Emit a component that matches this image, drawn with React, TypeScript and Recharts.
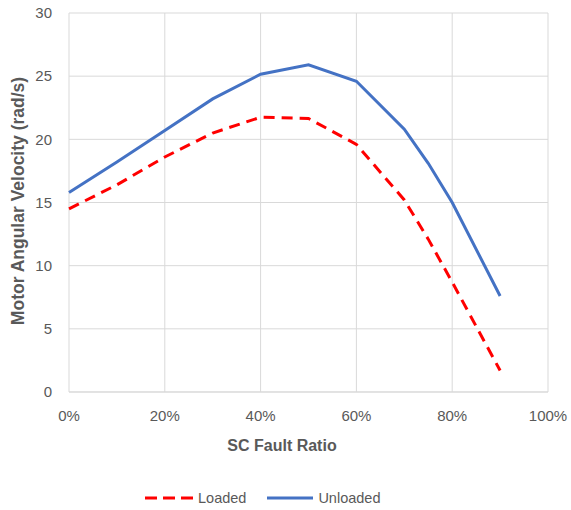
import React from 'react';
import { LineChart, Line, XAxis, YAxis, CartesianGrid, Legend } from 'recharts';

const faultRatios = [0, 0.1, 0.2, 0.3, 0.4, 0.5, 0.6, 0.7, 0.75, 0.8, 0.9];
const loadedValues = [14.5, 16.4, 18.6, 20.5, 21.75, 21.65, 19.6, 15.2, 12.1, 8.7, 1.7];
const unloadedValues = [15.8, 18.2, 20.7, 23.2, 25.15, 25.9, 24.6, 20.8, 18.1, 15.0, 7.6];
const xTicks = [0, 0.2, 0.4, 0.6, 0.8, 1];
const yTicks = [0, 5, 10, 15, 20, 25, 30];
const seriesNames = ['Loaded', 'Unloaded'];

const data = faultRatios.map((r, i) => ({ ratio: r, loaded: loadedValues[i], unloaded: unloadedValues[i] }));

const FONT = '"Liberation Sans", Arial, sans-serif';
const GRAY = '#595959';
const RED = '#FF0000';
const BLUE = '#4472C4';

const YTitle = () => {
  const cx = 18;
  const cy = 201;
  return (
    <text x={cx} y={cy} transform={`rotate(-90, ${cx}, ${cy})`} textAnchor="middle" dominantBaseline="central"
      fill={GRAY} fontFamily={FONT} fontSize={17.5} fontWeight="bold">Motor Angular Velocity (rad/s)</text>
  );
};

const XTitle = () => (
  <text x={282} y={445} textAnchor="middle" dominantBaseline="central"
    fill={GRAY} fontFamily={FONT} fontSize={16} fontWeight="bold">SC Fault Ratio</text>
);

const LegendContent = () => (
  <div style={{ display: 'flex', alignItems: 'center', paddingLeft: 145, fontFamily: FONT, fontSize: 14.5, color: GRAY }}>
    <svg width={48} height={6} style={{ marginRight: 5 }}>
      <line x1={0} y1={3} x2={48} y2={3} stroke={RED} strokeWidth={3} strokeDasharray="12 6" />
    </svg>
    <span style={{ marginRight: 21 }}>{seriesNames[0]}</span>
    <svg width={46} height={6} style={{ marginRight: 5 }}>
      <line x1={0} y1={3} x2={46} y2={3} stroke={BLUE} strokeWidth={3} />
    </svg>
    <span>{seriesNames[1]}</span>
  </div>
);

export default function App() {
  return (
    <div style={{ position: 'absolute', left: 0, top: 0 }}>
      <LineChart width={571} height={510} data={data} margin={{ top: 13, right: 23, left: 9, bottom: 0 }}>
        <CartesianGrid stroke="#d9d9d9" strokeWidth={1} />
        <XAxis dataKey="ratio" type="number" domain={[0, 1]} ticks={xTicks} height={98}
          tickFormatter={(v: number) => `${Math.round(v * 100)}%`}
          tickLine={false} tickMargin={12} axisLine={{ stroke: '#d9d9d9' }}
          tick={{ fill: GRAY, fontFamily: FONT, fontSize: 15 }}
          label={<XTitle />} />
        <YAxis type="number" domain={[0, 30]} ticks={yTicks} width={60}
          tickLine={false} axisLine={false} tickMargin={11}
          tick={{ fill: GRAY, fontFamily: FONT, fontSize: 15 }}
          label={<YTitle />} />
        <Legend verticalAlign="bottom" content={<LegendContent />}
          wrapperStyle={{ position: 'absolute', top: 490, left: 0, width: 571, height: 20 }} />
        <Line type="linear" dataKey="loaded" name={seriesNames[0]} stroke={RED} strokeWidth={3}
          strokeDasharray="11 7" dot={false} isAnimationActive={false} />
        <Line type="linear" dataKey="unloaded" name={seriesNames[1]} stroke={BLUE} strokeWidth={3}
          dot={false} isAnimationActive={false} />
      </LineChart>
    </div>
  );
}
